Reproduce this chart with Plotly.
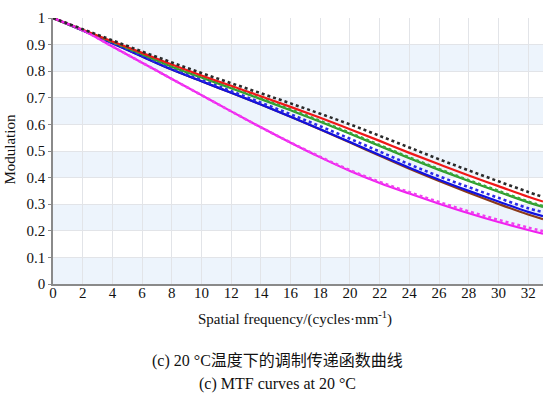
import plotly.graph_objects as go

# Spatial frequency samples (cycles/mm)
freq = [0, 2, 4, 6, 8, 10, 12, 14, 16, 18, 20, 22, 24, 26, 28, 30, 32, 33]

# MTF values per curve
diffraction = [1.0, 0.958, 0.916, 0.874, 0.833, 0.793, 0.755, 0.717, 0.679, 0.640, 0.600, 0.557, 0.513, 0.469, 0.427, 0.386, 0.346, 0.327]
red_t = [1.0, 0.956, 0.912, 0.869, 0.825, 0.784, 0.745, 0.706, 0.666, 0.625, 0.582, 0.538, 0.493, 0.450, 0.408, 0.368, 0.328, 0.310]
green_t = [1.0, 0.955, 0.910, 0.864, 0.817, 0.776, 0.736, 0.695, 0.653, 0.610, 0.565, 0.519, 0.473, 0.429, 0.387, 0.347, 0.307, 0.290]
green_s = [1.0, 0.955, 0.910, 0.865, 0.819, 0.778, 0.738, 0.698, 0.656, 0.613, 0.568, 0.522, 0.476, 0.432, 0.390, 0.350, 0.310, 0.293]
blue_s = [1.0, 0.954, 0.907, 0.858, 0.810, 0.767, 0.725, 0.682, 0.638, 0.593, 0.546, 0.498, 0.450, 0.405, 0.364, 0.324, 0.285, 0.270]
blue_t = [1.0, 0.953, 0.905, 0.855, 0.806, 0.762, 0.719, 0.675, 0.629, 0.582, 0.534, 0.485, 0.437, 0.392, 0.350, 0.310, 0.271, 0.255]
brown_t = [1.0, 0.953, 0.905, 0.855, 0.806, 0.762, 0.719, 0.675, 0.629, 0.581, 0.532, 0.482, 0.433, 0.387, 0.343, 0.301, 0.261, 0.244]
magenta_t = [1.0, 0.954, 0.893, 0.832, 0.771, 0.710, 0.649, 0.589, 0.531, 0.476, 0.425, 0.380, 0.340, 0.302, 0.266, 0.233, 0.203, 0.189]
magenta_s = [1.0, 0.954, 0.893, 0.832, 0.771, 0.710, 0.649, 0.589, 0.532, 0.478, 0.428, 0.384, 0.345, 0.308, 0.273, 0.241, 0.212, 0.199]

x_ticks = list(range(0, 33, 2))
y_ticks = [round(0.1 * i, 1) for i in range(11)]
y_tick_text = ["0", "0.1", "0.2", "0.3", "0.4", "0.5", "0.6", "0.7", "0.8", "0.9", "1"]

caption_cn = "(c) 20 °C温度下的调制传递函数曲线"
caption_en = "(c) MTF curves at 20 °C"
x_title = "Spatial frequency/(cycles·mm<sup>-1</sup>)"
y_title = "Modulation"

curves = [
    (brown_t, "#8b3a1a", "solid"),
    (blue_t, "#1010e0", "solid"),
    (blue_s, "#2a2ae8", "dot"),
    (green_t, "#2e9b2e", "solid"),
    (green_s, "#3aa83a", "dot"),
    (red_t, "#f01818", "solid"),
    (magenta_t, "#f020f0", "solid"),
    (magenta_s, "#f040f0", "dot"),
    (diffraction, "#2a2a2a", "dot"),
]

fig = go.Figure()
for vals, color, dash in curves:
    fig.add_trace(go.Scatter(
        x=freq, y=vals, mode="lines",
        line=dict(color=color, width=2.2 if dash == "solid" else 2.6, dash=dash, shape="spline", smoothing=1.0),
        showlegend=False, hoverinfo="skip",
    ))

# alternating light-blue horizontal bands
shapes = []
for i in range(0, 10, 2):
    shapes.append(dict(type="rect", xref="paper", yref="y", x0=0, x1=1,
                       y0=y_ticks[i], y1=y_ticks[i + 1],
                       fillcolor="#edf4fc", line=dict(width=0), layer="below"))

serif = "'Liberation Serif', Tinos, 'Times New Roman', 'DejaVu Serif', serif"
cjk = "'Liberation Serif', 'Noto Sans CJK SC', serif"

fig.update_layout(
    width=543, height=403,
    margin=dict(l=52.5, r=0, t=18.3, b=118.5),
    paper_bgcolor="white", plot_bgcolor="white",
    shapes=shapes,
    font=dict(family=serif, size=14, color="#111"),
    xaxis=dict(range=[0, 33], tickvals=x_ticks, ticktext=[str(v) for v in x_ticks],
               showgrid=True, gridcolor="#e2e4e8", gridwidth=1, zeroline=False,
               showline=True, linecolor="#8a8a8a", linewidth=1.5,
               ticks="", ticklabelstandoff=-6,
               tickfont=dict(family=serif, size=15, color="#111")),
    yaxis=dict(range=[0, 1], tickvals=y_ticks, ticktext=y_tick_text,
               showgrid=True, gridcolor="#e2e4e8", gridwidth=1, zeroline=False,
               showline=True, linecolor="#8a8a8a", linewidth=1.5,
               ticks="outside", ticklen=3, tickcolor="#8a8a8a",
               tickfont=dict(family=serif, size=15, color="#111")),
    annotations=[
        dict(text=x_title, xref="paper", yref="paper", x=0.494, y=-0.128,
             xanchor="center", yanchor="middle", showarrow=False,
             font=dict(family=serif, size=15, color="#111")),
        dict(text=y_title, xref="paper", yref="paper", x=-0.088, y=0.505,
             xanchor="center", yanchor="middle", textangle=-90, showarrow=False,
             font=dict(family=serif, size=15, color="#111")),
        dict(text=caption_cn, xref="paper", yref="paper", x=0.458, y=-0.291,
             xanchor="center", yanchor="middle", showarrow=False,
             font=dict(family=cjk, size=16, color="#111")),
        dict(text=caption_en, xref="paper", yref="paper", x=0.458, y=-0.377,
             xanchor="center", yanchor="middle", showarrow=False,
             font=dict(family=serif, size=16, color="#111")),
    ],
)

fig.write_html("out.html")
